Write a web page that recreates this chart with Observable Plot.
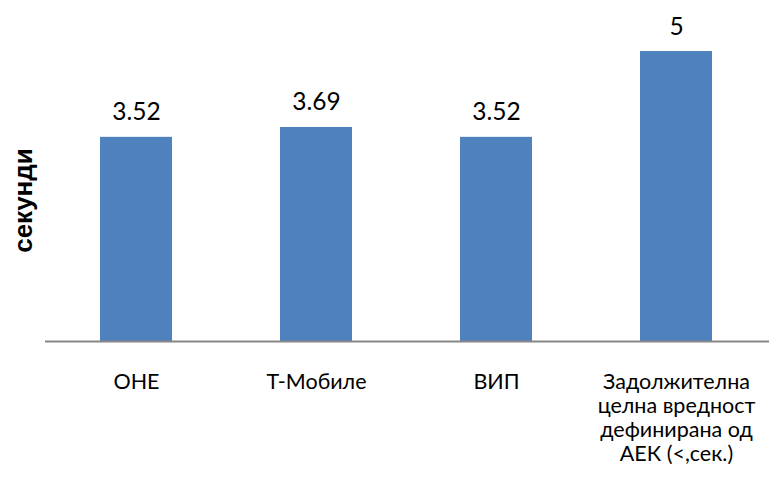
<!DOCTYPE html>
<html>
<head>
<meta charset="utf-8">
<script src="https://cdn.jsdelivr.net/npm/d3@7"></script>
<script src="https://cdn.jsdelivr.net/npm/@observablehq/plot@0.6"></script>
<style>
  html, body { margin: 0; padding: 0; background: #fff; }
  #chart { width: 769px; height: 490px; }
</style>
</head>
<body>
<div id="chart"></div>
<script>
const categories = ["ОНЕ", "Т-Мобиле", "ВИП", "Задолжителна целна вредност дефинирана од АЕК (<,сек.)"];
const values = [3.52, 3.69, 3.52, 5];
const valueLabels = ["3.52", "3.69", "3.52", "5"];
const tickLabels = ["ОНЕ", "Т-Мобиле", "ВИП", "Задолжителна\nцелна вредност\nдефинирана од\nАЕК (<,сек.)"];
const yLabel = "секунди";

const data = categories.map((c, i) => ({cat: c, value: values[i], label: valueLabels[i], tick: tickLabels[i]}));
const FONT = "Lato, 'Open Sans', sans-serif";

const chart = Plot.plot({
  width: 769,
  height: 490,
  marginLeft: 45,
  marginRight: 0,
  marginTop: 51,
  marginBottom: 149,
  style: {fontFamily: FONT, background: "#fff"},
  x: {domain: categories, range: [46, 766], paddingInner: 0.6, paddingOuter: 0.3},
  y: {domain: [0, 5], axis: null},
  marks: [
    Plot.barY(data, {x: "cat", y: "value", fill: "#4F81BD"}),
    Plot.ruleY([0], {stroke: "#878787", strokeWidth: 2}),
    Plot.text(data, {x: "cat", y: "value", text: "label", lineAnchor: "bottom", dy: -17, fontSize: 24.5, fill: "#000"}),
    Plot.axisX({tickSize: 0, tickPadding: 30, tickFormat: (d) => tickLabels[categories.indexOf(d)], fontSize: 21.5, lineHeight: 1.12, fill: "#000", label: null, lineAnchor: "top"}),
    Plot.text([yLabel], {frameAnchor: "left", textAnchor: "middle", rotate: -90, dx: -22, dy: 4, fontSize: 26, fontWeight: "bold", fontFamily: "'Liberation Sans', Arial, sans-serif", fill: "#000"})
  ]
});
document.getElementById("chart").appendChild(chart);
</script>
</body>
</html>
